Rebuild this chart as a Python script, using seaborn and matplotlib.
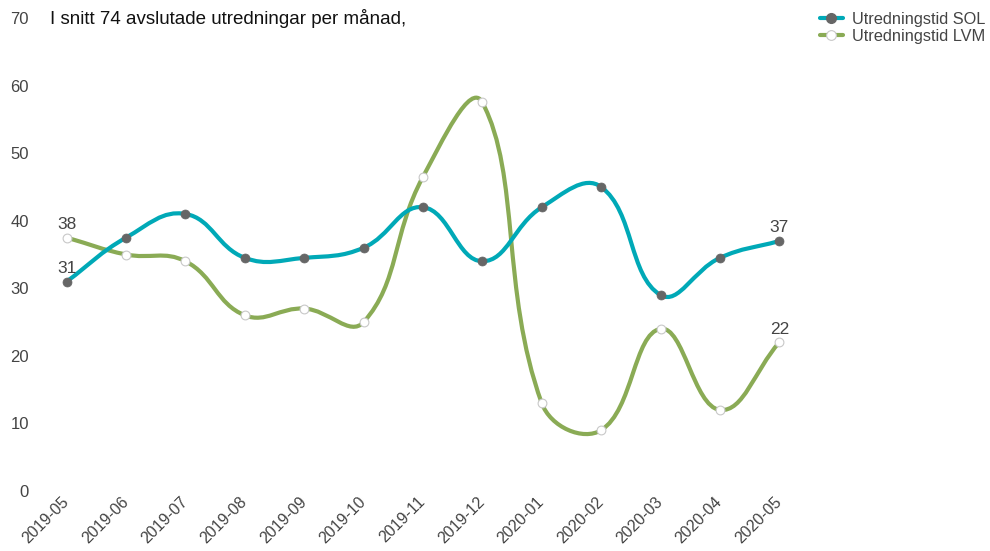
import matplotlib
matplotlib.use("Agg")
import matplotlib.pyplot as plt
from matplotlib.path import Path
from matplotlib.patches import PathPatch
from matplotlib.lines import Line2D
import seaborn as sns
import numpy as np
import pandas as pd

# Data
months = ["2019-05", "2019-06", "2019-07", "2019-08", "2019-09", "2019-10", "2019-11",
          "2019-12", "2020-01", "2020-02", "2020-03", "2020-04", "2020-05"]
sol = [31, 37.5, 41, 34.5, 34.5, 36, 42, 34, 42, 45, 29, 34.5, 37]
lvm = [37.5, 35, 34, 26, 27, 25, 46.5, 57.5, 13, 9, 24, 12, 22]
yticks = [0, 10, 20, 30, 40, 50, 60, 70]
title = "I snitt 74 avslutade utredningar per månad,"
sol_name = "Utredningstid SOL"
lvm_name = "Utredningstid LVM"

SOL_LINE = "#00a9b7"
SOL_MARK = "#666666"
LVM_LINE = "#8aab55"
TEXT = "#444444"

sns.set_theme(style="white")
plt.rcParams["font.family"] = ["Liberation Sans", "DejaVu Sans"]

W, H = 990, 551
fig = plt.figure(figsize=(W / 100, H / 100), dpi=100)
# axes box in pixels: left 40, right 806, top 18, bottom 491
ax = fig.add_axes([40 / W, (H - 491) / H, (806 - 40) / W, (491 - 18) / H])
ax.set_xlim(-0.45, len(months) - 1 + 0.45)
ax.set_ylim(0, 70)

df = pd.DataFrame({"idx": np.arange(len(months)), "month": months, "sol": sol, "lvm": lvm})


def smooth_path(xs, ys, tension=0.42):
    """Bezier path through the points, same control point rule as chart.js."""
    pts = ax.transData.transform(np.column_stack([xs, ys]))
    n = len(pts)
    cprev = np.zeros_like(pts)
    cnext = np.zeros_like(pts)
    for i in range(n):
        p0 = pts[i - 1] if i > 0 else pts[i]
        p1 = pts[i]
        p2 = pts[i + 1] if i < n - 1 else pts[i]
        d01 = np.hypot(*(p1 - p0))
        d12 = np.hypot(*(p2 - p1))
        tot = d01 + d12
        s01 = d01 / tot if tot else 0
        s12 = d12 / tot if tot else 0
        cprev[i] = p1 - tension * s01 * (p2 - p0)
        cnext[i] = p1 + tension * s12 * (p2 - p0)
    verts = [pts[0]]
    codes = [Path.MOVETO]
    for i in range(n - 1):
        verts += [cnext[i], cprev[i + 1], pts[i + 1]]
        codes += [Path.CURVE4] * 3
    inv = ax.transData.inverted()
    return Path(inv.transform(np.array(verts)), codes)


for col, color in [("lvm", LVM_LINE), ("sol", SOL_LINE)]:
    patch = PathPatch(smooth_path(df["idx"].values, df[col].values), facecolor="none",
                      edgecolor=color, lw=3, capstyle="round", joinstyle="round", zorder=2)
    ax.add_patch(patch)

sns.scatterplot(data=df, x="idx", y="lvm", ax=ax, s=40, color="white", edgecolor="#c8c8c8",
                linewidth=0.8, zorder=3, clip_on=False, legend=False)
sns.scatterplot(data=df, x="idx", y="sol", ax=ax, s=42, color=SOL_MARK, edgecolor=SOL_MARK,
                linewidth=0.5, zorder=3, clip_on=False, legend=False)

# value labels at the first and last points
for i in [0, len(months) - 1]:
    for vals in (sol, lvm):
        ax.annotate(f"{vals[i]:.0f}", (i, vals[i]), xytext=(0, 4), textcoords="offset points",
                    ha="center", va="bottom", fontsize=12.5, color=TEXT, zorder=4)

ax.set_xticks(df["idx"])
ax.set_xticklabels(months, rotation=45, ha="right", va="center", rotation_mode="anchor",
                   fontsize=11.5, color=TEXT)
ax.set_yticks(yticks)
ax.set_yticklabels([str(v) for v in yticks], fontsize=12, color=TEXT)
ax.tick_params(axis="x", length=0, pad=6)
ax.tick_params(axis="y", length=4, color="#e8e8e8", width=0.8, pad=4)
ax.set_xlabel("")
ax.set_ylabel("")
ax.grid(False)
sns.despine(ax=ax, left=True, bottom=True)

fig.text(50 / W, 1 - 19 / H, title, fontsize=13.5, color="#111111", ha="left", va="center")

handles = [
    Line2D([], [], color=SOL_LINE, lw=3, marker="o", markersize=7,
           markerfacecolor=SOL_MARK, markeredgecolor=SOL_MARK),
    Line2D([], [], color=LVM_LINE, lw=3, marker="o", markersize=7,
           markerfacecolor="white", markeredgecolor="#c8c8c8", markeredgewidth=0.8),
]
fig.legend(handles, [sol_name, lvm_name], loc="upper left", bbox_to_anchor=(813 / W, 1 - 5 / H),
           frameon=False, fontsize=11.8, handlelength=1.4, handletextpad=0.55,
           labelspacing=0.15, borderaxespad=0, labelcolor=TEXT)

fig.savefig("out.png", dpi=100)
